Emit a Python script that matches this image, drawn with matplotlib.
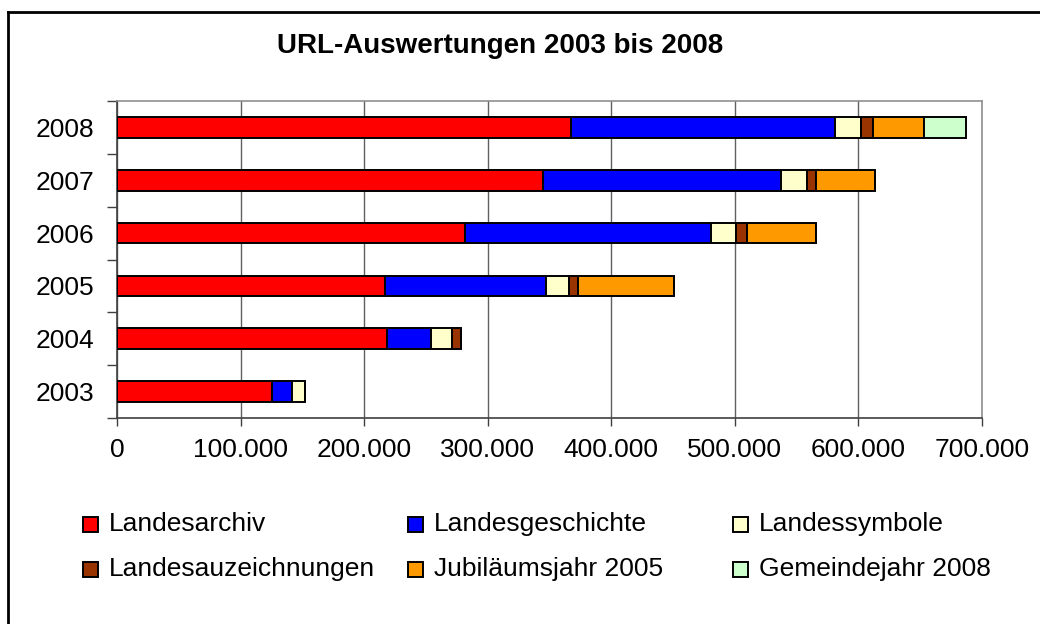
import matplotlib
matplotlib.use("Agg")
import matplotlib.pyplot as plt
from matplotlib.patches import Rectangle
from matplotlib.lines import Line2D
from matplotlib.ticker import FuncFormatter, FixedLocator
import numpy as np

plt.rcParams['font.family'] = ['Liberation Sans', 'DejaVu Sans']

years = ["2003", "2004", "2005", "2006", "2007", "2008"]
series_names = ["Landesarchiv", "Landesgeschichte", "Landessymbole",
                "Landesauzeichnungen", "Jubiläumsjahr 2005", "Gemeindejahr 2008"]
colors = ["#FF0000", "#0000FF", "#FFFFCC", "#993300", "#FF9900", "#CCFFCC"]

landesarchiv        = [125800, 218600, 217000, 281800, 344900, 367600]
landesgeschichte    = [16200, 35100, 129800, 198600, 192800, 213800]
landessymbole       = [10500, 17800, 19200, 20800, 20700, 21000]
landesauzeichnungen = [0, 7000, 7000, 8900, 7600, 9200]
jubilaeumsjahr      = [0, 0, 77500, 55900, 47500, 41800]
gemeindejahr        = [0, 0, 0, 0, 0, 33800]

xticks = [0, 100000, 200000, 300000, 400000, 500000, 600000, 700000]

data = [landesarchiv, landesgeschichte, landessymbole,
        landesauzeichnungen, jubilaeumsjahr, gemeindejahr]

W, H = 1040, 624
fig = plt.figure(figsize=(W / 100, H / 100), dpi=100)
fig.patch.set_facecolor("white")

ax = fig.add_axes([117 / W, 1 - 418 / H, (982 - 117) / W, (418 - 101) / H])

y = np.arange(len(years))
left = np.zeros(len(years))
for name, vals, col in zip(series_names, data, colors):
    vals = np.array(vals, dtype=float)
    ax.barh(y, vals, left=left, height=0.39, color=col,
            edgecolor="black", linewidth=1.4, label=name, zorder=3)
    left += vals

ax.set_xlim(0, 700000)
ax.set_ylim(-0.5, len(years) - 0.5)
ax.set_xticks(xticks)
ax.xaxis.set_major_formatter(FuncFormatter(
    lambda v, p: "0" if v == 0 else f"{int(v):,}".replace(",", ".")))
ax.set_yticks(y)
ax.set_yticklabels(years)
ax.yaxis.set_minor_locator(FixedLocator(np.arange(-0.5, len(years), 1.0)))
ax.tick_params(axis="y", which="major", length=0, pad=16.5, labelsize=19)
ax.tick_params(axis="y", which="minor", length=7, width=1, color="#404040")
ax.tick_params(axis="x", which="major", length=6, width=1, color="#404040",
               pad=8.5, labelsize=19)
ax.grid(axis="x", color="#606060", linewidth=1, zorder=0)
ax.set_axisbelow(True)
for s in ["top", "right"]:
    ax.spines[s].set_color("#909090")
    ax.spines[s].set_linewidth(1.2)
for s in ["left", "bottom"]:
    ax.spines[s].set_color("#404040")
    ax.spines[s].set_linewidth(1.2)

fig.text(500 / W, 1 - 46 / H, "URL-Auswertungen 2003 bis 2008",
         ha="center", va="center", fontsize=20, fontweight="bold")

# Legend laid out as a 3x2 grid (row-wise)
col_x = [83, 408, 733]
row_y = [524, 569]
for i, (name, col) in enumerate(zip(series_names, colors)):
    r, c = divmod(i, 3)
    mx, my = col_x[c], row_y[r]
    fig.add_artist(Rectangle((mx / W, 1 - (my + 7.5) / H), 15 / W, 15 / H,
                             transform=fig.transFigure, facecolor=col,
                             edgecolor="black", linewidth=1.4))
    fig.text((mx + 26) / W, 1 - my / H, name, ha="left", va="center",
             fontsize=19)

# Outer border (top and left visible)
fig.add_artist(Line2D([8 / W, 8 / W], [1 - 12 / H, 0], transform=fig.transFigure,
                      color="black", linewidth=2))
fig.add_artist(Line2D([8 / W, 1], [1 - 12 / H, 1 - 12 / H], transform=fig.transFigure,
                      color="black", linewidth=2))

fig.savefig("out.png", dpi=100)
